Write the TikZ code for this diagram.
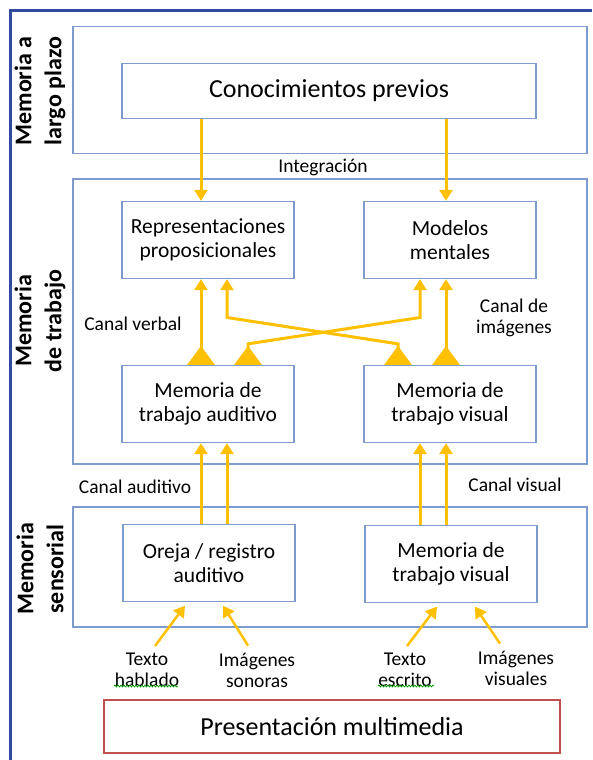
\documentclass[tikz,border=0pt]{standalone}
\usepackage{fontspec}
\setmainfont{Carlito}
\usetikzlibrary{arrows.meta,decorations.pathmorphing}

\definecolor{cajaazul}{RGB}{125,155,205}
\definecolor{flechaoro}{RGB}{255,192,0}
\definecolor{rojocaja}{RGB}{192,80,77}
\definecolor{marcoazul}{RGB}{47,75,160}

\tikzset{
  zona/.style={draw=cajaazul, line width=1.3pt, minimum width=514pt},
  caja/.style={draw=cajaazul, line width=1.3pt, minimum width=172pt, minimum height=77pt,
    align=center, inner sep=0pt, font=\fontsize{21.5}{24.5}\selectfont},
  etiqueta/.style={align=center, inner sep=0pt, font=\fontsize{19.5}{21}\selectfont},
  titulo/.style={rotate=90, align=center, inner sep=0pt, font=\fontsize{24}{30}\selectfont\bfseries},
  flecha/.style={draw=flechaoro, line width=3pt, -{Triangle[width=13pt,length=11pt]}},
  doble/.style={flecha, {Triangle[reversed,width=27pt,length=19pt]}-{Triangle[width=13pt,length=11pt]}},
  subrayado/.style={draw=green!60!black, line width=0.8pt,
    decorate, decoration={snake, amplitude=0.9pt, segment length=3pt}}
}

\begin{document}
\begin{tikzpicture}[x=1pt,y=-1pt]
    \useasboundingbox (0,0) rectangle (592,760);

    % Marco exterior
    \draw[marcoazul, line width=3pt] (10,760) -- (10,11) -- (592,11);

    % Zonas de memoria
    \node[zona, minimum height=127pt] (largo) at (330,90) {};
    \node[zona, minimum height=285pt] (trabajo) at (330,321.5) {};
    \node[zona, minimum height=120pt] (sensorial) at (330,567) {};

    \node[titulo] (tlargo) at (40,91) {Memoria a\\largo plazo};
    \node[titulo] (ttrabajo) at (40,321) {Memoria\\de trabajo};
    \node[titulo] (tsensorial) at (40,569) {Memoria\\sensorial};

    % Cajas
    \node[caja, minimum width=414pt, minimum height=55pt, font=\fontsize{26}{30}\selectfont]
        (conoc) at (329,91) {Conocimientos previos};
    \node[caja] (rep) at (208,240) {Representaciones\\proposicionales};
    \node[caja] (mod) at (450,240) {Modelos\\mentales};
    \node[caja] (wma) at (208,404) {Memoria de\\trabajo auditivo};
    \node[caja] (wmv) at (450,404) {Memoria de\\trabajo visual};
    \node[caja] (oreja) at (209,563) {Oreja / registro\\auditivo};
    \node[caja] (svis) at (451,564) {Memoria de\\trabajo visual};
    \node[draw=rojocaja, line width=1.3pt, minimum width=456pt, minimum height=53pt,
        inner sep=0pt, font=\fontsize{26}{30}\selectfont] (pres) at (332,726.5) {Presentación multimedia};

    % Etiquetas
    \node[etiqueta] (integ) at (323,167) {Integración};
    \node[etiqueta] (cverbal) at (133,324) {Canal verbal};
    \node[etiqueta] (cimag) at (514,318) {Canal de\\imágenes};
    \node[etiqueta] (caud) at (135,487) {Canal auditivo};
    \node[etiqueta] (cvis) at (515,485) {Canal visual};
    \node[etiqueta] (th) at (147,670) {Texto\\hablado};
    \node[etiqueta] (is) at (257,670) {Imágenes\\sonoras};
    \node[etiqueta] (te) at (405,670) {Texto\\escrito};
    \node[etiqueta] (iv) at (516,668) {Imágenes\\visuales};

    % Subrayado del corrector
    \draw[subrayado] (114,686) -- (178,686);
    \draw[subrayado] (378,686) -- (434,686);

    % Columnas de las flechas
    \coordinate (ra) at ([xshift=-7pt]rep.center);
    \coordinate (rb) at ([xshift=19pt]rep.center);
    \coordinate (ma) at ([xshift=-30pt]mod.center);
    \coordinate (mb) at ([xshift=-4pt]mod.center);
    \coordinate (cruce) at (0,317.5);

    % Integracion
    \draw[flecha] (conoc.south -| ra) -- (ra |- rep.north);
    \draw[flecha] (conoc.south -| mb) -- (mb |- mod.north);

    % Canal verbal y de imagenes
    \draw[doble] (ra |- wma.north) -- (ra |- rep.south);
    \draw[doble] ([xshift=40pt]wma.north) -- ++(0,-21) -- (ma |- cruce) -- (ma |- mod.south);
    \draw[doble] ([xshift=-52pt]wmv.north) -- ++(0,-21) -- (rb |- cruce) -- (rb |- rep.south);
    \draw[doble] (mb |- wmv.north) -- (mb |- mod.south);

    % Canal auditivo y visual
    \draw[flecha] (ra |- oreja.north) -- (ra |- wma.south);
    \draw[flecha] (rb |- oreja.north) -- (rb |- wma.south);
    \draw[flecha] (ma |- svis.north) -- (ma |- wmv.south);
    \draw[flecha] (mb |- svis.north) -- (mb |- wmv.south);

    % Entradas sensoriales
    \draw[flecha, line width=2.5pt] ([xshift=8pt,yshift=7pt]th.north) -- ([xshift=-24pt,yshift=-3.5pt]oreja.south);
    \draw[flecha, line width=2.5pt] ([xshift=-9pt,yshift=7pt]is.north) -- ([xshift=14pt,yshift=-3.5pt]oreja.south);
    \draw[flecha, line width=2.5pt] ([xshift=2pt,yshift=7pt]te.north) -- ([xshift=-14pt,yshift=-3.5pt]svis.south);
    \draw[flecha, line width=2.5pt] ([xshift=-16pt,yshift=7pt]iv.north) -- ([xshift=24pt,yshift=-3.5pt]svis.south);

\end{tikzpicture}
\end{document}
